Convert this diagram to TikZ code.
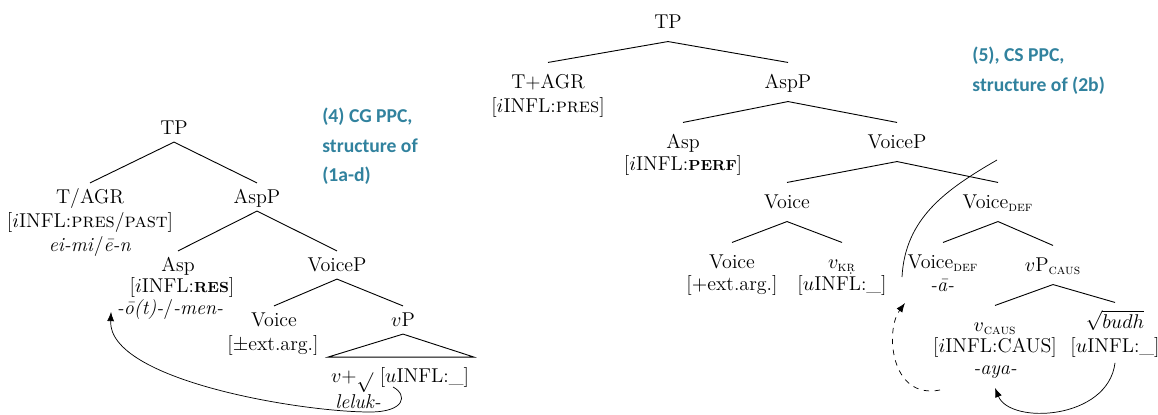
\documentclass[tikz,border=0pt]{standalone}
\usepackage{fontspec}
\usepackage{amsmath}
\usepackage{amssymb}
\usepackage{tikz}
\usetikzlibrary{arrows.meta}
\newfontfamily\notefont{Carlito}
\definecolor{noteteal}{RGB}{49,130,158}

\tikzset{
	lnode/.style={text height=7.5pt, text depth=0pt, inner xsep=1pt, inner ysep=3.8pt},
	rnode/.style={text height=7.5pt, text depth=0pt, inner xsep=1pt, inner ysep=6.8pt},
	feat/.style={inner sep=0pt},
	branch/.style={line width=0.5pt},
	note/.style={font=\notefont\bfseries\fontsize{10.8}{16}\selectfont, text=noteteal, align=left, anchor=north west, inner sep=0pt}
}

\begin{document}
\begin{tikzpicture}[x=0.55pt, y=0.55pt, font=\fontsize{11}{13.2}\selectfont]
	\useasboundingbox (0,0) rectangle (1158,-414);

	%Left tree: CG PPC
	\node [lnode] (lTP) at (174,-128) {TP};
	\node [lnode] (lTAGR) at (90,-197) {T/AGR};
	\node [feat] (lTAGRf) at (90,-222) {[$i$INFL:\textsc{pres}/\textsc{past}]};
	\node [feat] (lTAGRm) at (90,-246) {\textit{ei-mi}/\textit{\=e-n}};
	\node [lnode] (lAspP) at (257,-197) {AspP};
	\node [lnode] (lAsp) at (178,-265) {Asp};
	\node [feat] (lAspf) at (182,-287) {[$i$INFL:\textbf{\footnotesize RES}]};
	\node [feat] (lAspm) at (170,-310) {\textit{-\=o(t)-}/\textit{-men-}};
	\node [lnode] (lVoiceP) at (337,-265) {VoiceP};
	\node [lnode] (lVoice) at (274,-320) {Voice};
	\node [feat] (lVoicef) at (273,-345) {[$\pm$ext.arg.]};
	\node [lnode] (lvP) at (403,-320) {$v$P};
	\node [feat] (lroot) at (400,-380) {$v$+\raisebox{-0.7ex}{$\surd$} [$u$INFL:\_]};
	\node [feat] (lleluk) at (358,-402) {\textit{leluk-}};

	\draw [branch] (lTP.south) -- (lTAGR.north);
	\draw [branch] (lTP.south) -- (lAspP.north);
	\draw [branch] (lAspP.south) -- (lAsp.north);
	\draw [branch] (lAspP.south) -- (lVoiceP.north);
	\draw [branch] (lVoiceP.south) -- (lVoice.north);
	\draw [branch] (lVoiceP.south) -- (lvP.north);
	\draw [branch] (lvP.south) -- ++(-75,-23) -- ++(146,0) -- cycle;

	%Movement of the root to Asp
	\coordinate (lstart) at (393,-387);
	\draw [-{Latex[length=1.8mm]}] (lstart) .. controls (408,-395) and (405,-412) .. (370,-412)
		.. controls (300,-412) and (108,-380) .. ([xshift=-3pt,yshift=-1pt]lAspm.west);

	\node [note] (lnote) at (322,-108) {(4) CG PPC,\\structure of\\(1a-d)};

	%Right tree: CS PPC
	\node [rnode] (rTP) at (668,-22) {TP};
	\node [rnode] (rTAGR) at (548,-82) {T+AGR};
	\node [feat] (rTAGRf) at (548,-107) {[$i$INFL:\textsc{pres}]};
	\node [rnode] (rAspP) at (788,-82) {AspP};
	\node [rnode] (rAsp) at (683,-142) {Asp};
	\node [feat] (rAspf) at (683,-165) {[$i$INFL:\textbf{\footnotesize PERF}]};
	\node [rnode] (rVoiceP) at (897,-142) {VoiceP};
	\node [rnode] (rVoiceA) at (787,-202) {Voice};
	\node [rnode] (rVoiceB) at (732,-262) {Voice};
	\node [feat] (rVoiceBf) at (732,-285) {[$+$ext.arg.]};
	\node [rnode] (rvKR) at (842,-262) {$v_{\textsc{k\d{r}}}$};
	\node [feat] (rvKRf) at (842,-285) {[$u$INFL:\_]};
	\node [rnode] (rVdefA) at (998,-202) {Voice\textsubscript{\scshape def}};
	\node [rnode] (rVdefB) at (943,-262) {Voice\textsubscript{\scshape def}};
	\node [feat] (rVdefBm) at (942,-285) {\textit{-\=a-}};
	\node [rnode] (rvPc) at (1053,-265) {$v$P\textsubscript{\scshape caus}};
	\node [rnode] (rvc) at (995,-325) {$v$\textsubscript{\scshape caus}};
	\node [feat] (rvcf) at (995,-347) {[$i$INFL:CAUS]};
	\node [feat] (rvcm) at (995,-372) {\textit{-aya-}};
	\node [rnode] (rbudh) at (1115,-322) {$\sqrt{budh}$};
	\node [feat] (rbudhf) at (1115,-347) {[$u$INFL:\_]};

	\draw [branch] (rTP.south) -- (rTAGR.north);
	\draw [branch] (rTP.south) -- (rAspP.north);
	\draw [branch] (rAspP.south) -- (rAsp.north);
	\draw [branch] (rAspP.south) -- (rVoiceP.north);
	\draw [branch] (rVoiceP.south) -- (rVoiceA.north);
	\draw [branch] (rVoiceP.south) -- (rVdefA.north);
	\draw [branch] (rVoiceA.south) -- (rVoiceB.north);
	\draw [branch] (rVoiceA.south) -- (rvKR.north);
	\draw [branch] (rVdefA.south) -- (rVdefB.north);
	\draw [branch] (rVdefA.south) -- (rvPc.north);
	\draw [branch] (rvPc.south) -- (rvc.north);
	\draw [branch] (rvPc.south) -- (rbudh.north);

	%Arc, dashed and solid movement
	\coordinate (arcbot) at (902,-277);
	\coordinate (arctop) at (997,-160);
	\draw (arcbot) to [out=87,in=210] (arctop);
	\coordinate (dstart) at (940,-390);
	\draw [dashed, -{Latex[length=1.8mm]}] (dstart) .. controls (890,-400) and (885,-330) .. (905,-303);
	\draw [-{Latex[length=1.8mm]}] ([yshift=-3pt]rbudhf.south) .. controls (1108,-420) and (1010,-425) .. ([yshift=-5pt]rvcm.south);

	\node [note] (rnote) at (972,-47) {(5), CS PPC,\\structure of (2b)};
\end{tikzpicture}
\end{document}
